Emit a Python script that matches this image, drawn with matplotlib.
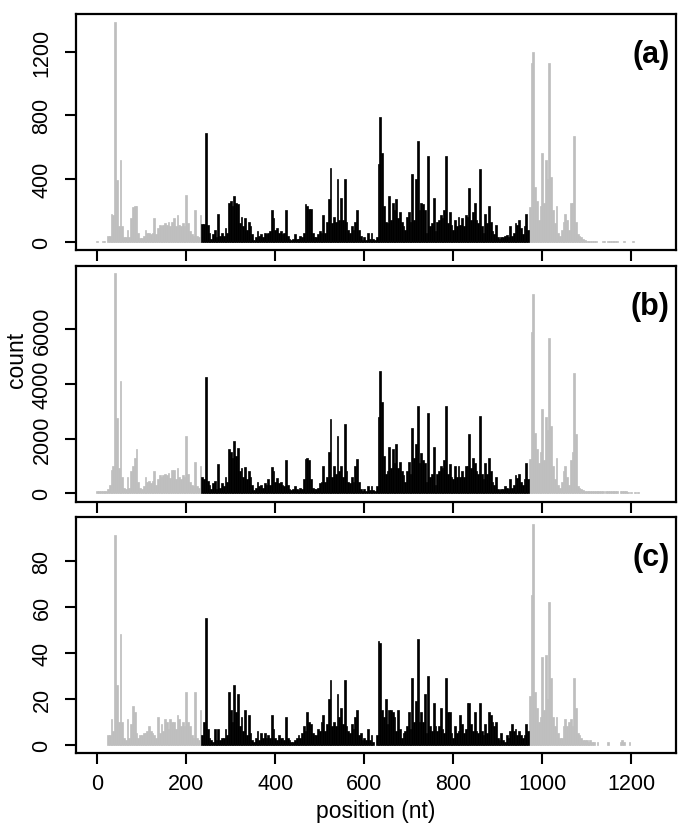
import numpy as np
import matplotlib
matplotlib.use("Agg")
import matplotlib.pyplot as plt

plt.rcParams['font.family'] = ['Liberation Sans', 'DejaVu Sans']

# ---------------- data ----------------
step = 4                      # nt per bar
cds_start, cds_end = 234, 970 # coding region (black); UTRs grey
positions = np.arange(0, 1224, step)

counts_a = [
    8, 0, 0, 8, 8, 0, 40, 40, 180, 170,
    1385, 390, 100, 518, 100, 30, 30, 80, 30, 150,
    220, 225, 225, 60, 25, 25, 40, 75, 60, 55,
    50, 60, 150, 50, 90, 110, 100, 110, 120, 110,
    125, 100, 130, 155, 100, 170, 110, 100, 120, 100,
    300, 120, 70, 50, 40, 200, 40, 30, 170, 115,
    115, 690, 110, 60, 20, 50, 80, 30, 175, 40,
    55, 40, 90, 60, 250, 260, 230, 290, 250, 240,
    120, 160, 100, 150, 80, 130, 100, 50, 15, 30,
    70, 40, 50, 30, 60, 50, 60, 70, 200, 150,
    80, 90, 60, 70, 50, 60, 205, 40, 20, 15,
    20, 50, 20, 20, 40, 30, 60, 240, 230, 210,
    210, 60, 30, 30, 50, 70, 60, 170, 60, 130,
    270, 470, 120, 160, 130, 400, 140, 280, 140, 400,
    130, 80, 60, 100, 80, 130, 200, 80, 40, 15,
    30, 15, 60, 20, 60, 20, 15, 30, 490, 790,
    560, 230, 130, 120, 290, 140, 250, 200, 270, 150,
    190, 130, 100, 80, 160, 190, 130, 430, 140, 400,
    640, 200, 250, 240, 200, 60, 540, 100, 120, 280,
    70, 130, 140, 170, 150, 200, 540, 120, 190, 110,
    80, 140, 100, 160, 110, 150, 100, 170, 160, 340,
    140, 190, 250, 140, 120, 460, 100, 60, 180, 120,
    230, 130, 70, 50, 110, 30, 20, 30, 30, 40,
    45, 30, 100, 40, 60, 120, 110, 140, 90, 50,
    100, 180, 80, 220, 1130, 1200, 350, 260, 140, 230,
    560, 250, 520, 400, 1130, 410, 200, 120, 225, 60,
    40, 80, 130, 180, 140, 80, 245, 250, 672, 130,
    50, 40, 30, 20, 12, 10, 8, 8, 8, 8,
    8, 0, 0, 0, 8, 8, 0, 8, 8, 8,
    8, 8, 8, 0, 0, 0, 8, 0, 0, 0,
    0, 8, 0, 0, 0, 0,
]

counts_b = [
    60, 60, 60, 60, 60, 60, 150, 300, 850, 1000,
    8060, 2750, 900, 4100, 600, 200, 150, 600, 200, 800,
    1000, 1300, 1600, 400, 200, 150, 250, 600, 400, 450,
    350, 450, 800, 300, 500, 650, 600, 650, 700, 650,
    750, 550, 850, 850, 500, 900, 600, 500, 650, 600,
    2100, 700, 400, 300, 250, 1150, 250, 200, 1000, 600,
    500, 4250, 450, 300, 150, 350, 450, 150, 1050, 200,
    350, 250, 600, 400, 1600, 1500, 1300, 1900, 1350, 1650,
    800, 900, 600, 950, 500, 800, 600, 300, 100, 200,
    400, 250, 300, 200, 350, 300, 500, 300, 950, 800,
    400, 550, 350, 400, 300, 250, 1200, 300, 150, 100,
    150, 250, 150, 100, 200, 150, 500, 1250, 1300, 1200,
    500, 200, 150, 150, 200, 350, 400, 1000, 400, 600,
    1500, 2700, 600, 1000, 700, 2100, 800, 1000, 600, 2550,
    800, 400, 350, 600, 400, 1000, 1250, 400, 150, 80,
    150, 80, 250, 100, 250, 100, 80, 250, 2800, 4460,
    3350, 1350, 700, 800, 1700, 900, 1600, 1100, 1800, 900,
    1150, 800, 650, 400, 800, 1150, 700, 2400, 1300, 1800,
    3200, 1100, 1450, 1200, 1100, 400, 2950, 600, 700, 1700,
    300, 700, 800, 1000, 900, 1200, 3200, 700, 1050, 600,
    500, 1000, 600, 1000, 600, 800, 600, 1000, 1000, 2150,
    900, 1300, 1100, 800, 700, 2830, 700, 500, 1100, 700,
    1300, 800, 400, 300, 600, 150, 100, 150, 150, 250,
    200, 150, 500, 200, 300, 650, 550, 700, 400, 300,
    500, 1100, 500, 1250, 5900, 7300, 2200, 1600, 1100, 1500,
    3100, 1200, 2800, 2300, 5690, 2450, 1000, 500, 1300, 300,
    200, 400, 800, 1000, 600, 300, 1200, 1500, 4400, 2150,
    250, 200, 150, 100, 80, 60, 60, 60, 60, 60,
    60, 60, 60, 60, 60, 0, 60, 60, 60, 60,
    60, 60, 60, 0, 60, 60, 60, 60, 50, 0,
    50, 0, 50, 0, 50, 0,
]

counts_c = [
    0, 0, 0, 0, 0, 0, 4, 4, 11, 6,
    91, 26, 10, 48, 10, 3, 2, 11, 3, 9,
    17, 14, 5, 3, 4, 4, 5, 5, 6, 8,
    6, 5, 4, 3, 12, 5, 9, 6, 11, 10,
    7, 11, 10, 10, 7, 13, 11, 8, 10, 8,
    23, 10, 8, 4, 3, 23, 3, 2, 15, 4,
    10, 55, 7, 3, 2, 1, 7, 2, 7, 2,
    3, 3, 7, 4, 23, 15, 10, 26, 14, 22,
    8, 12, 6, 15, 4, 13, 5, 2, 1, 3,
    6, 2, 5, 3, 5, 3, 4, 3, 13, 7,
    3, 2, 4, 3, 3, 2, 12, 3, 2, 1,
    1, 2, 3, 4, 3, 5, 8, 6, 14, 10,
    9, 5, 4, 4, 7, 6, 10, 13, 6, 9,
    20, 28, 8, 10, 8, 22, 12, 16, 9, 28,
    8, 6, 5, 9, 7, 12, 15, 4, 5, 2,
    3, 2, 7, 2, 4, 1, 0, 4, 45, 44,
    15, 12, 20, 9, 15, 15, 14, 12, 6, 15,
    7, 3, 5, 6, 8, 14, 7, 29, 10, 19,
    46, 10, 14, 10, 22, 5, 30, 8, 6, 18,
    8, 6, 8, 16, 7, 5, 29, 14, 14, 5,
    3, 8, 5, 6, 13, 9, 5, 7, 18, 18,
    9, 6, 14, 6, 5, 18, 6, 4, 9, 5,
    14, 13, 10, 8, 10, 3, 2, 5, 2, 1,
    4, 3, 6, 9, 6, 7, 4, 6, 4, 3,
    4, 9, 6, 21, 65, 96, 23, 16, 10, 12,
    38, 15, 39, 20, 62, 29, 12, 8, 12, 5,
    3, 3, 8, 11, 8, 10, 11, 8, 29, 16,
    5, 4, 3, 2, 2, 2, 1, 2, 1, 1,
    0, 1, 0, 0, 0, 0, 0, 1, 0, 0,
    0, 0, 0, 0, 1, 2, 1, 0, 0, 1,
    0, 0, 0, 0, 0, 0,
]

panel_labels = ["(a)", "(b)", "(c)"]
yticks_a = [0, 400, 800, 1200]
yticks_b = [0, 2000, 4000, 6000]
yticks_c = [0, 20, 40, 60, 80]
xticks = [0, 200, 400, 600, 800, 1000, 1200]

# ---------------- figure ----------------
W, H = 685, 829
fig = plt.figure(figsize=(W / 100, H / 100), dpi=100)

def rect(left, top, right, bottom):
    return [left / W, 1 - bottom / H, (right - left) / W, (bottom - top) / H]

panels = [
    (counts_a, yticks_a, (-47, 1437), rect(76, 15, 675.7, 250.7)),
    (counts_b, yticks_b, (-341, 8341), rect(76, 266.7, 675.7, 503.3)),
    (counts_c, yticks_c, (-3.75, 99.1), rect(76, 517.7, 675.7, 754.3)),
]

grey = "#bebebe"
for i, (vals, yt, ylim, r) in enumerate(panels):
    ax = fig.add_axes(r)
    vals = np.asarray(vals, dtype=float)
    present = vals > 0
    coding = (positions >= cds_start) & (positions < cds_end)
    utr = present & ~coding
    cds = present & coding
    ax.bar(positions[utr], vals[utr], width=step, color=grey,
           edgecolor=grey, linewidth=0.5, align="center")
    ax.bar(positions[cds], vals[cds], width=step, color="black",
           edgecolor="black", linewidth=0.5, align="center")
    ax.set_xlim(-48, 1300)
    ax.set_ylim(*ylim)
    ax.set_xticks(xticks)
    if i < 2:
        ax.set_xticklabels([])
    else:
        ax.set_xticklabels([str(t) for t in xticks])
    ax.set_yticks(yt)
    ax.set_yticklabels([str(t) for t in yt], rotation=90, va="center")
    ax.tick_params(axis="both", direction="out", length=8, width=1.5,
                   labelsize=15.5, colors="black")
    ax.tick_params(axis="y", pad=9)
    ax.tick_params(axis="x", pad=6.5)
    for s in ax.spines.values():
        s.set_linewidth(1.6)
    ax.text(0.99, 0.83, panel_labels[i], transform=ax.transAxes,
            ha="right", va="center", fontsize=22, fontweight="bold")

fig.text(16.5 / W, 1 - 360 / H, "count", rotation=90, ha="center",
         va="center", fontsize=16.5)
fig.text(376 / W, 1 - 812 / H, "position (nt)", ha="center", va="center",
         fontsize=16.5)

fig.savefig("out.png", dpi=100)
